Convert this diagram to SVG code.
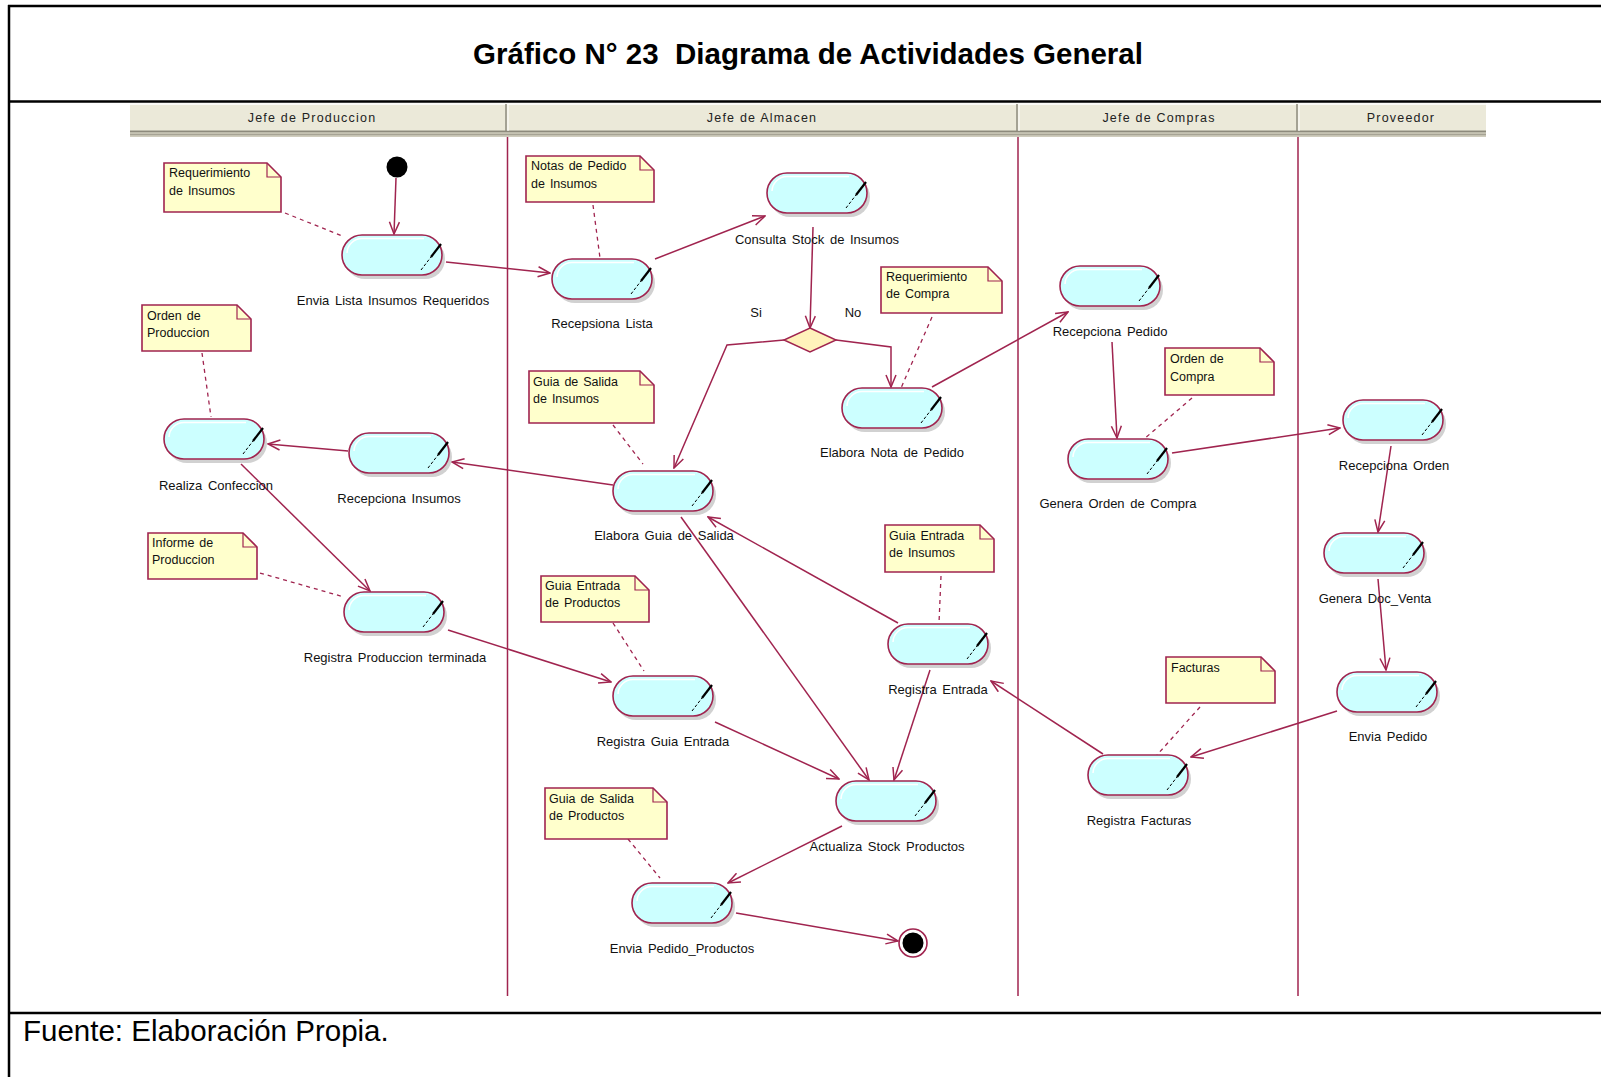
<svg xmlns="http://www.w3.org/2000/svg" width="1601" height="1077" viewBox="0 0 1601 1077">
<style>
.frame{stroke:#000;stroke-width:2.5;fill:none}
.title{font-family:"Liberation Sans",Arial,sans-serif;font-weight:bold;font-size:29.5px;fill:#000;white-space:pre}
.foot{font-family:"Liberation Sans",Arial,sans-serif;font-size:29.5px;fill:#000}
.hdr{font-family:"Liberation Sans",Arial,sans-serif;font-size:12.5px;letter-spacing:1.2px;fill:#222}
.lane{stroke:#a0244f;stroke-width:1.5}
.act{fill:#ccffff;stroke:#a0244f;stroke-width:1.6}
.shd{fill:#bdbdbd;opacity:.7}
.hl{fill:none;stroke:#fff;stroke-width:1.5}
.sl1{stroke:#000;stroke-width:2.2}
.sl2{stroke:#000;stroke-width:1;stroke-dasharray:3 2}
.lbl{font-family:"Liberation Sans",Arial,sans-serif;font-size:13px;word-spacing:2px;fill:#111;text-anchor:middle}
.note{fill:#ffffcc;stroke:#a0244f;stroke-width:1.6}
.fold{fill:none;stroke:#a0244f;stroke-width:1.2}
.ntxt{font-family:"Liberation Sans",Arial,sans-serif;font-size:12.5px;word-spacing:1.5px;fill:#111}
.dash{stroke:#a0244f;stroke-width:1.3;stroke-dasharray:4 4;fill:none}
.con{stroke:#a0244f;stroke-width:1.5;fill:none;marker-end:url(#arr)}
</style>
<defs>
<marker id="arr" markerUnits="userSpaceOnUse" markerWidth="14" markerHeight="12" viewBox="0 0 14 12" refX="13" refY="6" orient="auto">
<path d="M1,1 L13,6 L1,11" fill="none" stroke="#a0244f" stroke-width="1.5"/>
</marker>
<g id="actshape">
<rect class="shd" x="3" y="4" width="100" height="40" rx="20"/>
<rect class="act" x="0" y="0" width="100" height="40" rx="20"/>
<path class="hl" d="M5,18 A15,15 0 0 1 20,3.5 H82"/>
<line class="sl2" x1="79" y1="35" x2="89" y2="22"/>
<line class="sl1" x1="89" y1="22" x2="99" y2="9"/>
</g>
</defs>
<rect x="0" y="0" width="1601" height="1077" fill="#fff"/>
<!-- frame -->
<line class="frame" x1="8" y1="6" x2="1601" y2="6"/>
<line class="frame" x1="9" y1="5" x2="9" y2="1077"/>
<line class="frame" x1="9" y1="101.5" x2="1601" y2="101.5"/>
<line class="frame" x1="9" y1="1013" x2="1601" y2="1013"/>
<text class="title" x="808" y="64" text-anchor="middle" xml:space="preserve">Gráfico N° 23  Diagrama de Actividades General</text>
<text class="foot" x="23" y="1041">Fuente: Elaboración Propia.</text>
<!-- swimlane header -->
<g id="lanes">
<rect x="130" y="103" width="1356" height="34" fill="#ebe9d9"/>
<line x1="130" y1="104" x2="1486" y2="104" stroke="#fff" stroke-width="1.5"/>
<rect x="130" y="130" width="1356" height="7" fill="#cfccbd"/>
<line x1="130" y1="131.5" x2="1486" y2="131.5" stroke="#8d8a7c" stroke-width="1.5"/>
<line x1="130" y1="134.5" x2="1486" y2="134.5" stroke="#a6a394" stroke-width="1.5"/>
<line x1="506" y1="104" x2="506" y2="131" stroke="#8d8a7c" stroke-width="1.5"/>
<line x1="508" y1="104" x2="508" y2="131" stroke="#fff" stroke-width="1"/>
<line x1="1017" y1="104" x2="1017" y2="131" stroke="#8d8a7c" stroke-width="1.5"/>
<line x1="1019" y1="104" x2="1019" y2="131" stroke="#fff" stroke-width="1"/>
<line x1="1297" y1="104" x2="1297" y2="131" stroke="#8d8a7c" stroke-width="1.5"/>
<line x1="1299" y1="104" x2="1299" y2="131" stroke="#fff" stroke-width="1"/>
<text class="hdr" x="312" y="122" text-anchor="middle">Jefe de Produccion</text>
<text class="hdr" x="762" y="122" text-anchor="middle">Jefe de Almacen</text>
<text class="hdr" x="1159" y="122" text-anchor="middle">Jefe de Compras</text>
<text class="hdr" x="1401" y="122" text-anchor="middle">Proveedor</text>
<line class="lane" x1="507.5" y1="137" x2="507.5" y2="996"/>
<line class="lane" x1="1018" y1="137" x2="1018" y2="996"/>
<line class="lane" x1="1298" y1="137" x2="1298" y2="996"/>
</g>
<!-- connectors -->
<g id="connectors">
<line class="dash" x1="285" y1="213" x2="342" y2="236"/>
<line class="dash" x1="202" y1="353" x2="211" y2="417"/>
<line class="dash" x1="593" y1="205" x2="600" y2="258"/>
<line class="dash" x1="932" y1="317" x2="901" y2="388"/>
<line class="dash" x1="613" y1="425" x2="643" y2="464"/>
<line class="dash" x1="1192" y1="398" x2="1144" y2="439"/>
<line class="dash" x1="260" y1="573" x2="344" y2="597"/>
<line class="dash" x1="941" y1="576" x2="939" y2="623"/>
<line class="dash" x1="613" y1="623" x2="644" y2="671"/>
<line class="dash" x1="1200" y1="707" x2="1157" y2="755"/>
<line class="dash" x1="628" y1="839" x2="660" y2="878"/>
<path class="con" d="M396,178 L394,234"/>
<path class="con" d="M446,262 L550,273"/>
<path class="con" d="M655,259 L765,216"/>
<path class="con" d="M813,227 L810,328"/>
<path class="con" d="M784,340 L727,345 L674,468"/>
<path class="con" d="M836,340 L891,347 L891,387"/>
<path class="con" d="M932,387 L1068,312"/>
<path class="con" d="M1112,342 L1117,438"/>
<path class="con" d="M1172,453 L1340,428"/>
<path class="con" d="M1391,446 L1378,532"/>
<path class="con" d="M1378,579 L1386,670"/>
<path class="con" d="M1337,711 L1191,757"/>
<path class="con" d="M1103,754 L991,681"/>
<path class="con" d="M898,623 L708,517"/>
<path class="con" d="M613,485 L452,462"/>
<path class="con" d="M348,451 L268,444"/>
<path class="con" d="M241,464 L370,591"/>
<path class="con" d="M448,630 L611,682"/>
<path class="con" d="M715,722 L839,779"/>
<path class="con" d="M681,517 L869,780"/>
<path class="con" d="M930,670 L894,780"/>
<path class="con" d="M842,826 L728,883"/>
<path class="con" d="M736,913 L898,941"/>
</g>
<!-- start / end / decision -->
<g id="start"><circle cx="397" cy="167" r="10.5" fill="#000"/></g>
<g id="end"><circle cx="913" cy="943" r="14" fill="#fff" stroke="#a0244f" stroke-width="1.6"/><circle cx="913" cy="943" r="10.5" fill="#000"/></g>
<g id="decision"><polygon points="810,328 836,340 810,352 784,340" fill="#fff2bb" stroke="#a0244f" stroke-width="1.5"/>
<text class="lbl" x="756" y="317">Si</text><text class="lbl" x="853" y="317">No</text></g>
<!-- activities -->
<g id="n-envia-lista"><use href="#actshape" x="342" y="235"/><text class="lbl" x="393" y="305">Envia Lista Insumos Requeridos</text></g>
<g id="n-recepsiona-lista"><use href="#actshape" x="552" y="259"/><text class="lbl" x="602" y="328">Recepsiona Lista</text></g>
<g id="n-consulta-stock"><use href="#actshape" x="767" y="173"/><text class="lbl" x="817" y="244">Consulta Stock de Insumos</text></g>
<g id="n-elabora-nota"><use href="#actshape" x="842" y="388"/><text class="lbl" x="892" y="457">Elabora Nota de Pedido</text></g>
<g id="n-recepciona-pedido"><use href="#actshape" x="1060" y="266"/><text class="lbl" x="1110" y="336">Recepciona Pedido</text></g>
<g id="n-genera-orden"><use href="#actshape" x="1068" y="439"/><text class="lbl" x="1118" y="508">Genera Orden de Compra</text></g>
<g id="n-recepciona-orden"><use href="#actshape" x="1343" y="400"/><text class="lbl" x="1394" y="470">Recepciona Orden</text></g>
<g id="n-genera-doc"><use href="#actshape" x="1324" y="533"/><text class="lbl" x="1375" y="603">Genera Doc_Venta</text></g>
<g id="n-envia-pedido"><use href="#actshape" x="1337" y="672"/><text class="lbl" x="1388" y="741">Envia Pedido</text></g>
<g id="n-registra-facturas"><use href="#actshape" x="1088" y="755"/><text class="lbl" x="1139" y="825">Registra Facturas</text></g>
<g id="n-realiza-confeccion"><use href="#actshape" x="164" y="419"/><text class="lbl" x="216" y="490">Realiza Confeccion</text></g>
<g id="n-recepciona-insumos"><use href="#actshape" x="349" y="433"/><text class="lbl" x="399" y="503">Recepciona Insumos</text></g>
<g id="n-registra-produccion"><use href="#actshape" x="344" y="592"/><text class="lbl" x="395" y="662">Registra Produccion terminada</text></g>
<g id="n-elabora-guia-salida"><use href="#actshape" x="613" y="471"/><text class="lbl" x="664" y="540">Elabora Guia de Salida</text></g>
<g id="n-registra-entrada"><use href="#actshape" x="888" y="624"/><text class="lbl" x="938" y="694">Registra Entrada</text></g>
<g id="n-registra-guia-entrada"><use href="#actshape" x="613" y="676"/><text class="lbl" x="663" y="746">Registra Guia Entrada</text></g>
<g id="n-actualiza-stock"><use href="#actshape" x="836" y="781"/><text class="lbl" x="887" y="851">Actualiza Stock Productos</text></g>
<g id="n-envia-pedido-productos"><use href="#actshape" x="632" y="883"/><text class="lbl" x="682" y="953">Envia Pedido_Productos</text></g>
<!-- notes -->
<g id="note-req-insumos"><path class="note" d="M164,163 H267 L281,177 V212 H164 Z"/><path class="fold" d="M267,163 V177 H281"/><text class="ntxt" x="169" y="177">Requerimiento</text><text class="ntxt" x="169" y="195">de Insumos</text></g>
<g id="note-orden-prod"><path class="note" d="M142,305 H237 L251,319 V351 H142 Z"/><path class="fold" d="M237,305 V319 H251"/><text class="ntxt" x="147" y="320">Orden de</text><text class="ntxt" x="147" y="337">Produccion</text></g>
<g id="note-notas-pedido"><path class="note" d="M526,156 H640 L654,170 V202 H526 Z"/><path class="fold" d="M640,156 V170 H654"/><text class="ntxt" x="531" y="170">Notas de Pedido</text><text class="ntxt" x="531" y="188">de Insumos</text></g>
<g id="note-req-compra"><path class="note" d="M881,267 H988 L1002,281 V313 H881 Z"/><path class="fold" d="M988,267 V281 H1002"/><text class="ntxt" x="886" y="281">Requerimiento</text><text class="ntxt" x="886" y="298">de Compra</text></g>
<g id="note-guia-salida-ins"><path class="note" d="M529,371 H640 L654,385 V423 H529 Z"/><path class="fold" d="M640,371 V385 H654"/><text class="ntxt" x="533" y="386">Guia de Salida</text><text class="ntxt" x="533" y="403">de Insumos</text></g>
<g id="note-orden-compra"><path class="note" d="M1165,348 H1260 L1274,362 V395 H1165 Z"/><path class="fold" d="M1260,348 V362 H1274"/><text class="ntxt" x="1170" y="363">Orden de</text><text class="ntxt" x="1170" y="381">Compra</text></g>
<g id="note-informe-prod"><path class="note" d="M148,533 H243 L257,547 V579 H148 Z"/><path class="fold" d="M243,533 V547 H257"/><text class="ntxt" x="152" y="547">Informe de</text><text class="ntxt" x="152" y="564">Produccion</text></g>
<g id="note-guia-entrada-ins"><path class="note" d="M885,525 H980 L994,539 V572 H885 Z"/><path class="fold" d="M980,525 V539 H994"/><text class="ntxt" x="889" y="540">Guia Entrada</text><text class="ntxt" x="889" y="557">de Insumos</text></g>
<g id="note-guia-entrada-prod"><path class="note" d="M541,576 H635 L649,590 V622 H541 Z"/><path class="fold" d="M635,576 V590 H649"/><text class="ntxt" x="545" y="590">Guia Entrada</text><text class="ntxt" x="545" y="607">de Productos</text></g>
<g id="note-facturas"><path class="note" d="M1166,657 H1261 L1275,671 V703 H1166 Z"/><path class="fold" d="M1261,657 V671 H1275"/><text class="ntxt" x="1171" y="672">Facturas</text></g>
<g id="note-guia-salida-prod"><path class="note" d="M545,788 H653 L667,802 V839 H545 Z"/><path class="fold" d="M653,788 V802 H667"/><text class="ntxt" x="549" y="803">Guia de Salida</text><text class="ntxt" x="549" y="820">de Productos</text></g>
</svg>
